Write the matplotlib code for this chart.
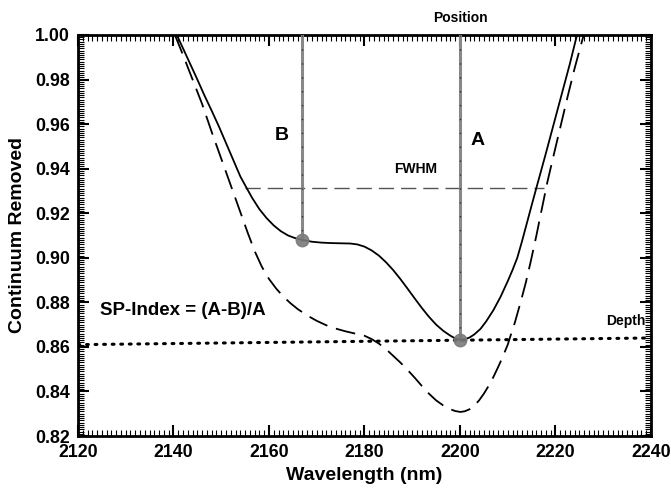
import numpy as np
import matplotlib.pyplot as plt
from matplotlib.ticker import MultipleLocator

plt.rcParams['font.family'] = ['Liberation Sans', 'DejaVu Sans']
plt.rcParams['font.weight'] = 'bold'

# continuum removed spectrum (solid)
wl_solid = [2140.7, 2142.0, 2143.5, 2145.0, 2146.5, 2148.0, 2149.5, 2151.0, 2152.5,
            2154.0, 2155.4, 2156.5, 2158.0, 2159.5, 2161.0, 2162.5, 2164.0, 2165.5,
            2167.0, 2169.0, 2171.0, 2173.0, 2175.0, 2177.0, 2178.5, 2180.0, 2181.5,
            2183.0, 2184.5, 2186.0, 2187.5, 2189.0, 2190.5, 2192.0, 2193.5, 2195.0,
            2196.5, 2198.0, 2199.0, 2200.1, 2201.0, 2202.0, 2203.0, 2204.3, 2205.5,
            2207.0, 2208.5, 2210.0, 2211.0, 2212.0, 2213.0, 2214.0, 2215.0, 2216.0,
            2217.0, 2218.0, 2219.0, 2220.0, 2221.0, 2222.0, 2223.0, 2224.5]
cr_solid = [1.000, 0.994, 0.987, 0.980, 0.9728, 0.9660, 0.9590, 0.9515, 0.9440,
            0.9365, 0.9310, 0.9268, 0.9218, 0.9178, 0.9145, 0.9119, 0.9100, 0.9088,
            0.9080, 0.9072, 0.9068, 0.9066, 0.9065, 0.9064, 0.9060, 0.9050, 0.9033,
            0.9010, 0.8980, 0.8945, 0.8905, 0.8862, 0.8818, 0.8775, 0.8735, 0.8700,
            0.8672, 0.8650, 0.8638, 0.8632, 0.8634, 0.8642, 0.8656, 0.8681, 0.8715,
            0.8765, 0.8825, 0.8895, 0.8945, 0.9000, 0.9075, 0.9155, 0.9235, 0.9314,
            0.9392, 0.9470, 0.9550, 0.9630, 0.9710, 0.9790, 0.9870, 1.000]

# second spectrum (dashed)
wl_dash = [2140.3, 2142.0, 2144.0, 2146.0, 2148.0, 2149.5, 2151.0, 2152.5, 2154.0,
           2155.5, 2157.0, 2158.5, 2160.0, 2161.5, 2163.0, 2164.5, 2166.0, 2168.0,
           2170.0, 2172.0, 2174.0, 2176.0, 2178.0, 2180.0, 2181.5, 2183.0, 2184.5,
           2186.0, 2187.5, 2189.0, 2190.5, 2192.0, 2193.5, 2195.0, 2196.5, 2198.0,
           2199.0, 2200.1, 2201.0, 2202.0, 2203.0, 2204.0, 2205.0, 2206.0, 2207.0,
           2208.0, 2209.0, 2210.0, 2210.6, 2211.5, 2212.7, 2213.8, 2214.8, 2216.0,
           2217.0, 2218.3, 2219.5, 2221.0, 2222.5, 2224.0, 2225.9]
cr_dash = [1.000, 0.991, 0.980, 0.969, 0.9565, 0.9475, 0.9385, 0.9295, 0.9205,
           0.9115, 0.9030, 0.8960, 0.8905, 0.8862, 0.8826, 0.8796, 0.8770, 0.8741,
           0.8717, 0.8697, 0.8682, 0.8670, 0.8660, 0.8650, 0.8635, 0.8615, 0.8590,
           0.8560, 0.8530, 0.8497, 0.8462, 0.8425, 0.8390, 0.8360, 0.8337, 0.8320,
           0.8312, 0.8308, 0.8311, 0.8320, 0.8336, 0.8360, 0.8390, 0.8425, 0.8465,
           0.8510, 0.8558, 0.8610, 0.8651, 0.8710, 0.8801, 0.8890, 0.8982, 0.9100,
           0.9205, 0.9340, 0.9450, 0.9585, 0.9720, 0.9850, 1.000]

depth_x = [2120, 2240]
depth_y = [0.8610, 0.8640]

pos_a = 2200.1
pos_b = 2166.9
val_a = 0.8632
val_b = 0.9080
fwhm_y = 0.9315
fwhm_x = [2155.0, 2217.6]

fig = plt.figure(figsize=(6.71, 4.90), dpi=100)
ax = fig.add_axes([0.1162, 0.1102, 0.8540, 0.8184])

ax.plot(wl_solid, cr_solid, color='black', lw=1.3, zorder=4)
ax.plot(wl_dash, cr_dash, color='black', lw=1.3, dashes=(11, 5), zorder=4)
ax.plot(depth_x, depth_y, color='black', lw=2.2, linestyle=(0, (0.6, 2.2)),
        dash_capstyle='round', zorder=5)
ax.plot(fwhm_x, [fwhm_y, fwhm_y], color='#555555', lw=1.0, dashes=(11, 5), zorder=3)

for px, pv in [(pos_b, val_b), (pos_a, val_a)]:
    ax.plot([px, px], [1.0, pv], color='#888888', lw=2.2, zorder=3)
    ax.plot([px, px], [1.0, pv], color='#333333', lw=1.0,
            linestyle=(0, (1, 9)), zorder=3)
    ax.plot(px, pv, 'o', color='#7a7a7a', markersize=9, alpha=0.9, zorder=6)

ax.text(2200, 1.0045, 'Position', ha='center', va='bottom', fontsize=10,
        fontweight='bold')
ax.text(2162.7, 0.9548, 'B', ha='center', va='center', fontsize=14, fontweight='bold')
ax.text(2203.6, 0.9525, 'A', ha='center', va='center', fontsize=14, fontweight='bold')
ax.text(2190.7, 0.9397, 'FWHM', ha='center', va='center', fontsize=10,
        fontweight='bold')
ax.text(2142.0, 0.8765, 'SP-Index = (A-B)/A', ha='center', va='center',
        fontsize=13.5, fontweight='bold')
ax.text(2234.7, 0.8715, 'Depth', ha='center', va='center', fontsize=10,
        fontweight='bold')

ax.set_xlim(2120, 2240)
ax.set_ylim(0.82, 1.00)
ax.xaxis.set_major_locator(MultipleLocator(20))
ax.xaxis.set_minor_locator(MultipleLocator(1))
ax.yaxis.set_major_locator(MultipleLocator(0.02))
ax.yaxis.set_minor_locator(MultipleLocator(0.001))
ax.yaxis.set_major_formatter(plt.FormatStrFormatter('%.2f'))
ax.tick_params(which='both', direction='in', top=True, right=True, labelsize=12.8)
ax.tick_params(which='major', length=8, width=1.5, pad=6)
ax.tick_params(which='minor', length=4, width=0.8)
for lab in ax.get_xticklabels() + ax.get_yticklabels():
    lab.set_fontweight('bold')
for sp in ax.spines.values():
    sp.set_linewidth(2)

ax.set_xlabel('Wavelength (nm)', fontsize=14, fontweight='bold', labelpad=4)
ax.set_ylabel('Continuum Removed', fontsize=14, fontweight='bold', labelpad=6)

fig.savefig('out.png', dpi=100)
